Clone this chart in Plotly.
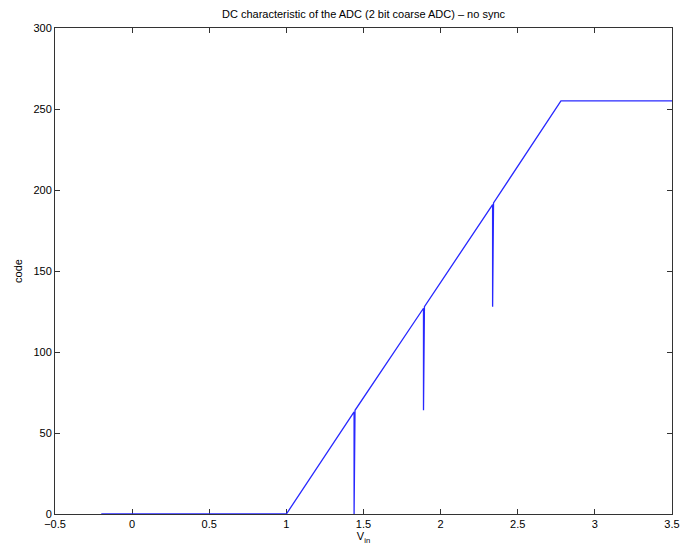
import plotly.graph_objects as go

# Measured DC characteristic (V_in -> output code), glitches at MSB transitions
v_in = [-0.2, 1.0, 1.439, 1.439, 1.445, 1.889, 1.889, 1.895, 2.337, 2.337, 2.343, 2.78, 3.5]
code = [0, 0, 63, 0, 64, 127, 64, 128, 191, 128, 192, 255, 255]

x_ticks = [-0.5, 0, 0.5, 1, 1.5, 2, 2.5, 3, 3.5]
x_tick_labels = ["\u22120.5", "0", "0.5", "1", "1.5", "2", "2.5", "3", "3.5"]
y_ticks = [0, 50, 100, 150, 200, 250, 300]
y_tick_labels = ["0", "50", "100", "150", "200", "250", "300"]

fig = go.Figure()
fig.add_trace(go.Scatter(
    x=v_in, y=code, mode="lines",
    line=dict(color="rgb(40,40,255)", width=1.3),
    showlegend=False, hoverinfo="x+y", cliponaxis=False,
))

font = dict(family="Liberation Sans, Arial, Helvetica, sans-serif", size=11, color="black")

fig.update_layout(
    width=700, height=553,
    margin=dict(l=55, r=28, t=28, b=39),
    paper_bgcolor="white", plot_bgcolor="white",
    font=font,
    title=dict(text="DC characteristic of the ADC (2 bit coarse ADC) \u2013 no sync",
               x=(55 + 672) / 2 / 700, xanchor="center", y=1 - 14 / 553, yanchor="middle",
               font=dict(size=11)),
    xaxis=dict(
        range=[-0.5, 3.5], tickvals=x_ticks, ticktext=x_tick_labels,
        ticks="inside", ticklen=5, tickcolor="#333", showgrid=False, zeroline=False,
        showline=True, linecolor="#333", linewidth=1, mirror="ticks", layer="below traces",
        title=dict(text="V<sub>in</sub>", standoff=2, font=dict(size=11)),
    ),
    yaxis=dict(
        range=[0, 300], tickvals=y_ticks, ticktext=y_tick_labels,
        ticks="inside", ticklen=5, tickcolor="#333", showgrid=False, zeroline=False,
        showline=True, linecolor="#333", linewidth=1, mirror="ticks", layer="below traces",
        title=dict(text="code", standoff=8, font=dict(size=11)),
    ),
)

fig.write_html("out.html", config={"displayModeBar": False},
               post_script="document.body.style.margin='0px';document.body.style.padding='0px';")
